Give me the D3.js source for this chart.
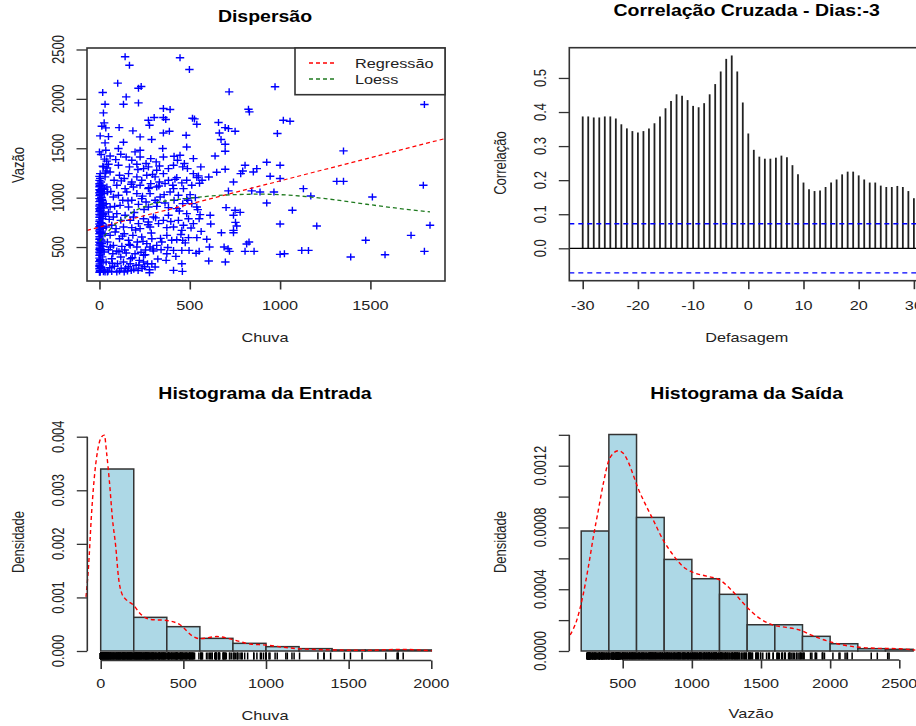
<!DOCTYPE html>
<html>
<head>
<meta charset="utf-8">
<script src="https://cdn.jsdelivr.net/npm/d3@7"></script>
<style>
body { margin: 0; background: #fff; }
text { font-family: "Liberation Sans", Arial, sans-serif; fill: #222; }
</style>
</head>
<body>
<svg width="916" height="726"></svg>
<script>
var dispersao = [
  [142,2426],[166,2341],[446,2416],[498,2297],[101,2159],[18,2064],[148,2020],[133,1946],[216,2108],[231,2125],
  [216,1959],[31,1946],[22,1858],[718,2071],[972,2122],[825,1895],[830,1868],[1799,1943],[354,1902],[391,1892],
  [26,1757],[13,1723],[35,1706],[109,1709],[185,1676],[271,1784],[303,1811],[277,1733],[354,1811],[367,1791],
  [354,1655],[387,1672],[515,1804],[526,1797],[539,1743],[480,1632],[659,1760],[696,1709],[714,1699],[751,1672],
  [664,1655],[673,1588],[696,1540],[696,1470],[985,1649],[1018,1784],[1055,1774],[1351,1473],[4,1625],[50,1618],
  [31,1554],[133,1561],[0,1463],[35,1480],[105,1497],[225,1615],[289,1588],[225,1480],[350,1497],[413,1419],
  [446,1429],[483,1513],[520,1395],[561,1311],[640,1422],[649,1257],[696,1287],[806,1328],[782,1243],[793,1270],
  [852,1260],[871,1294],[926,1358],[1000,1328],[945,1216],[1000,1193],[742,1159],[714,1068],[843,1068],[889,1057],
  [966,1057],[1129,1091],[1170,1017],[1314,1165],[1351,1165],[1511,1007],[1793,1125],[926,946],[1068,872],[1830,720],
  [1203,713],[1000,733],[1725,618],[1474,568],[1120,466],[1157,466],[1000,426],[1024,432],[1391,399],[1581,422],
  [1799,456],[815,530],[828,551],[806,456],[856,456],[779,851],[751,872],[742,821],[753,750],[760,713],
  [742,669],[675,645],[742,645],[701,899],[613,821],[616,733],[594,578],[609,500],[690,500],[712,483],
  [720,456],[697,348],[605,358],[552,456],[496,466],[456,466],[410,466],[373,432],[341,473],[299,459],
  [461,567],[428,574],[493,595],[539,595],[456,331],[410,264],[459,253],[277,240],[308,297],[290,331],
  [369,365],[544,879],[557,828],[552,787],[489,973],[502,1030],[554,1146],[568,1176],[605,1209],[483,838],
  [9,1436],[59,1422],[90,1385],[118,1439],[148,1412],[179,1379],[197,1463],[225,1412],[258,1345],[284,1395],
  [314,1362],[332,1321],[354,1412],[382,1294],[410,1328],[432,1379],[461,1311],[487,1294],[520,1243],[22,1311],
  [50,1338],[105,1328],[166,1311],[207,1338],[244,1294],[271,1311],[317,1277],
  [4,1243],[31,1210],[59,1260],[81,1176],[111,1226],[137,1193],[161,1243],[179,1159],[207,1210],[234,1176],
  [262,1226],[284,1142],[308,1210],[332,1159],[354,1243],[382,1176],[406,1125],[428,1203],[456,1149],[483,1176],
  [511,1125],[539,1203],[13,1125],[41,1108],[96,1125],[142,1091],[188,1108],[225,1125],[271,1091],[317,1108],
  [363,1142],[410,1091],[465,1091],
  [4,1074],[26,1041],[44,1057],[77,1007],[105,1024],[129,973],[151,1057],[179,973],[207,1041],[234,990],
  [258,956],[280,1041],[308,973],[336,1007],[363,946],[391,1057],[413,973],[437,1024],[461,939],[483,990],
  [511,939],[539,905],[13,973],[37,939],[59,905],[114,922],[161,905],[216,932],[271,905],[317,912],
  [382,899],[428,889],
  [4,872],[22,838],[50,855],[77,804],[96,838],[118,770],[142,821],[170,770],[188,804],[216,737],
  [244,787],[271,754],[299,804],[327,737],[354,770],[382,821],[410,703],[437,770],[465,720],[493,787],
  [520,737],[13,737],[37,703],[68,720],[92,686],[133,703],[179,696],[225,686],[280,703],[373,696],[456,669],
  [4,652],[31,635],[59,618],[87,652],[111,584],[137,635],[161,568],[185,618],[210,551],[234,601],
  [262,534],[290,584],[317,517],[345,551],[373,618],[400,568],[13,534],[44,551],[77,517],[124,507],
  [170,517],[207,500],[280,500],
  [4,483],[26,449],[50,473],[74,432],[96,459],[118,399],[148,439],[173,382],[197,432],[221,365],
  [244,416],[266,331],[4,365],[37,348],[68,382],[100,331],[133,348],[170,331],[203,314],[244,348],
  [4,257],[22,250],[44,247],[68,252],[96,247],[111,257],[137,247],[155,257],[4,245],[31,248],
  [0,245],[3,262],[0,280],[8,295],[0,310],[2,328],[12,340],[0,355],[5,372],[0,388],
  [15,400],[0,415],[3,430],[0,447],[8,460],[0,475],[2,490],[18,505],[0,520],[5,535],
  [0,548],[10,562],[0,578],[3,590],[0,605],[14,620],[0,635],[6,648],[0,662],[2,678],
  [20,690],[0,705],[4,718],[0,733],[9,745],[0,760],[2,775],[16,788],[0,802],[5,815],
  [0,830],[11,845],[0,858],[3,872],[0,888],[7,900],[0,915],[2,930],[17,945],[0,960],
  [4,975],[0,990],[10,1005],[0,1020],[3,1035],[0,1050],[6,1065],[0,1080],[13,1095],[0,1110],
  [2,1125],[0,1140],[8,1158],[0,1175],[4,1195],[0,1215],[28,268],[57,290],[83,305],[160,300],
  [190,276],[214,262],[236,283],[250,300],[120,283],[176,262],[230,447],[255,470],[140,470],[60,500],
  [47,255],[54,780],[63,1062],[71,336],[84,912],[108,452],[121,1170],[127,610],[145,285],[158,968],
  [164,527],[176,1135],[182,392],[192,850],[200,672],[213,1285],[218,318],[238,1015],[241,557],[247,880],
  [253,422],[269,725],[274,1100],[277,270],[287,642],[294,1235],[296,480],[311,795],[320,952],[323,378],
  [329,1118],[338,588],[358,1030],[378,495],[395,758],[418,1185],[423,405],[442,865],[451,627],[470,1345],
  [475,542],[507,692],[531,1000],[535,437],[548,1220],[563,658],[1,302],[6,468],[9,572],[14,710],
  [19,826],[24,935],[27,1085],[33,1250],[1,352],[6,512],[9,742],[14,982],[19,1318],[24,895],
  [33,810],[40,1370],[28,1390],[36,1270],[42,1300],[16,918],[11,1000],[7,692]
];
var chuva = dispersao.map(function(d) { return d[0]; });
var vazao = dispersao.map(function(d) { return d[1]; });

// linhas ajustadas
var regX = [-69, 1913];
var regY = [668, 1598];
var loessX = [0, 50, 100, 160, 200, 250, 336, 446, 550, 742, 900, 1000, 1166, 1295, 1480, 1664, 1830];
var loessY = [555, 660, 750, 821, 870, 910, 956, 983, 1005, 1030, 1035, 1030, 1007, 980, 933, 889, 855];

// correlacao cruzada, lags -30..30
var lags = d3.range(-30, 31);
var ccf = [0.387,0.387,0.384,0.384,0.387,0.387,0.381,0.364,0.352,0.344,0.340,0.344,0.352,0.367,0.387,0.411,
  0.432,0.452,0.448,0.435,0.418,0.414,0.426,0.452,0.482,0.519,0.556,0.566,0.519,0.428,0.337,0.289,0.269,
  0.263,0.263,0.266,0.272,0.267,0.244,0.217,0.193,0.173,0.168,0.170,0.180,0.193,0.202,0.217,0.225,0.225,
  0.214,0.202,0.193,0.193,0.184,0.180,0.180,0.183,0.180,0.168,0.147];
var ccfLimite = 0.072;

// histograma da entrada (chuva)
var breaksEntrada = [0,200,400,600,800,1000,1200,1400,1600,1800,2000];
var densEntrada = [0.003397,0.000628,0.000454,0.000236,0.000143,0.000081,0.000044,0.00002,0.00002,0.00002];
var kdeEntradaX = [-89,-75,-54,-34,-18,6,22,36,52,72,91,107,127,157,197,238,298,399,480,560,601,702,802,903,1004,1105,1206,1407,1609,1811,2002];
var kdeEntradaY = [0.00101,0.00151,0.00263,0.00338,0.00375,0.0040,0.00403,0.00369,0.00319,0.00244,0.00195,0.00139,0.00108,0.00095,0.00086,0.0007,0.00059,0.00057,0.00049,0.00027,0.00023,0.00027,0.00021,0.00013,0.00011,0.00007,0.00004,0.00002,0.000012,0.00003,0.000006];

// histograma da saida (vazao)
var breaksSaida = [200,400,600,800,1000,1200,1400,1600,1800,2000,2200,2400,2600];
var densSaida = [0.000777,0.001402,0.000865,0.000593,0.000468,0.000367,0.00017,0.00017,0.000095,0.000047,0.000015,0.000011];
var kdeSaidaX = [120,168,211,252,288,324,360,396,432,468,504,540,576,613,661,721,793,865,937,1009,1106,1202,1298,1395,1491,1587,1683,1779,1875,1972,2092,2212,2356,2500,2616];
var kdeSaidaY = [0.000104,0.0002,0.000352,0.000546,0.00074,0.000913,0.001085,0.001225,0.00128,0.001297,0.00128,0.001225,0.00114,0.00105,0.000956,0.000848,0.000718,0.000621,0.000546,0.000509,0.000485,0.00046,0.000384,0.000287,0.000211,0.000168,0.000153,0.000136,0.000099,0.000067,0.000039,0.000024,0.000017,0.000015,0.000006];

var SX = 1.25; // o original foi esticado na horizontal
var svg = d3.select("svg");

function texto(t, x, y, opt) {
    opt = opt || {};
    var tr = "translate(" + x + "," + y + ") scale(" + SX + ",1)" + (opt.rot ? " rotate(-90)" : "");
    return svg.append("text")
        .attr("transform", tr)
        .attr("text-anchor", "middle")
        .attr("dy", "0.35em")
        .style("font-size", (opt.size || 13) + "px")
        .style("font-weight", opt.bold ? "bold" : "normal")
        .style("fill", opt.bold ? "#000" : "#222")
        .text(t);
}

function eixoX(scale, y, ticks, fmt, labelY, noLine) {
    var g = svg.append("g").attr("transform", "translate(0," + y + ")")
        .call(d3.axisBottom(scale).tickValues(ticks).tickSize(8.5).tickSizeOuter(0).tickFormat(""));
    g.select(".domain").remove();
    g.selectAll("line").attr("stroke", "#333").attr("stroke-width", 1.6);
    if (!noLine) {
        g.append("line").attr("x1", scale(ticks[0])).attr("x2", scale(ticks[ticks.length - 1]))
            .attr("stroke", "#333").attr("stroke-width", 1.3);
    }
    ticks.forEach(function(t) { texto(fmt(t), scale(t), labelY); });
}

function eixoY(scale, x, ticks, labels, labelX, noLine) {
    var g = svg.append("g").attr("transform", "translate(" + x + ",0)")
        .call(d3.axisLeft(scale).tickValues(ticks).tickSize(10.5).tickSizeOuter(0).tickFormat(""));
    g.select(".domain").remove();
    g.selectAll("line").attr("stroke", "#333").attr("stroke-width", 1.3);
    if (!noLine) {
        g.append("line").attr("y1", scale(ticks[0])).attr("y2", scale(ticks[ticks.length - 1]))
            .attr("stroke", "#333").attr("stroke-width", 1.6);
    }
    labels.forEach(function(l) { texto(l[1], labelX, scale(l[0]), { rot: true }); });
}

function caixa(x0, y0, x1, y1) {
    svg.append("rect").attr("x", x0).attr("y", y0).attr("width", x1 - x0).attr("height", y1 - y0)
        .attr("fill", "none").attr("stroke", "#333").attr("stroke-width", 1.6);
}

// ---------- Dispersao ----------
var xs = d3.scaleLinear().domain([-69, 1913]).range([87, 445]);
var ys = d3.scaleLinear().domain([156, 2515]).range([281, 48]);

svg.append("clipPath").attr("id", "clipDisp").append("rect")
    .attr("x", 87).attr("y", 48).attr("width", 358).attr("height", 233);

svg.append("g").selectAll("path.pt").data(dispersao).enter().append("path")
    .attr("d", "M-4.2,0H4.2M0,-3.5V3.5")
    .attr("transform", function(d) { return "translate(" + xs(d[0]) + "," + ys(d[1]) + ")"; })
    .attr("stroke", "#0000ff").attr("stroke-width", 1.4).attr("fill", "none");

var lin = d3.line().x(function(d) { return xs(d[0]); }).y(function(d) { return ys(d[1]); });
svg.append("path").datum(d3.zip(regX, regY)).attr("d", lin).attr("clip-path", "url(#clipDisp)")
    .attr("fill", "none").attr("stroke", "#ff0000").attr("stroke-width", 1.2).attr("stroke-dasharray", "4,3");
svg.append("path").datum(d3.zip(loessX, loessY)).attr("d", d3.line().curve(d3.curveMonotoneX)
        .x(function(d) { return xs(d[0]); }).y(function(d) { return ys(d[1]); }))
    .attr("clip-path", "url(#clipDisp)")
    .attr("fill", "none").attr("stroke", "#1f7a1f").attr("stroke-width", 1.3).attr("stroke-dasharray", "4,3");

caixa(87, 48, 445, 281);
eixoX(xs, 281, [0, 500, 1000, 1500], String, 305, true);
eixoY(ys, 87, [500, 1000, 1500, 2000, 2500], [[500,"500"],[1000,"1000"],[1500,"1500"],[2000,"2000"],[2500,"2500"]], 58, true);
texto("Dispersão", 265, 16.5, { bold: true, size: 15.6 });
texto("Chuva", 265, 337);
texto("Vazão", 18, 165, { rot: true });

// legenda
svg.append("rect").attr("x", 295).attr("y", 48).attr("width", 150).attr("height", 46.7)
    .attr("fill", "#fff").attr("stroke", "#333").attr("stroke-width", 1.6);
var legenda = [["Regressão", "#ff0000", 63], ["Loess", "#1f7a1f", 79]];
legenda.forEach(function(l) {
    svg.append("line").attr("x1", 309).attr("x2", 337).attr("y1", l[2]).attr("y2", l[2])
        .attr("stroke", l[1]).attr("stroke-width", 1.3).attr("stroke-dasharray", "4,3");
    svg.append("text").attr("transform", "translate(355," + l[2] + ") scale(" + SX + ",1)")
        .attr("dy", "0.35em").style("font-size", "13px").text(l[0]);
});

// ---------- Correlacao cruzada ----------
var cx = d3.scaleLinear().domain([-32.43, 32.43]).range([569.3, 927.3]);
var cy = d3.scaleLinear().domain([-0.0951, 0.5888]).range([280.7, 47.7]);

svg.append("g").selectAll("line").data(d3.zip(lags, ccf)).enter().append("line")
    .attr("x1", function(d) { return cx(d[0]); }).attr("x2", function(d) { return cx(d[0]); })
    .attr("y1", cy(0)).attr("y2", function(d) { return cy(d[1]); })
    .attr("stroke", "#222").attr("stroke-width", 1.8);
svg.append("line").attr("x1", 569.3).attr("x2", 927).attr("y1", cy(0)).attr("y2", cy(0))
    .attr("stroke", "#000").attr("stroke-width", 1.3);
[ccfLimite, -ccfLimite].forEach(function(v) {
    svg.append("line").attr("x1", 569.3).attr("x2", 927).attr("y1", cy(v)).attr("y2", cy(v))
        .attr("stroke", "#0000ff").attr("stroke-width", 1.3).attr("stroke-dasharray", "5,4");
});
caixa(569.3, 47.7, 927.3, 280.7);
eixoX(cx, 280.7, [-30, -20, -10, 0, 10, 20, 30], String, 305, true);
eixoY(cy, 569.3, [0, 0.1, 0.2, 0.3, 0.4, 0.5],
    [[0,"0.0"],[0.1,"0.1"],[0.2,"0.2"],[0.3,"0.3"],[0.4,"0.4"],[0.5,"0.5"]], 540, true);
texto("Correlação Cruzada - Dias:-3", 746.7, 11, { bold: true, size: 15.6 });
texto("Defasagem", 746.7, 337);
texto("Correlação", 500, 163, { rot: true });

// ---------- Histograma da entrada ----------
var h1x = d3.scaleLinear().domain([0, 2000]).range([100.7, 431.3]);
var h1y = d3.scaleLinear().domain([0, 0.004]).range([651, 436.7]);

svg.append("g").selectAll("rect").data(densEntrada).enter().append("rect")
    .attr("x", function(d, i) { return h1x(breaksEntrada[i]); })
    .attr("width", function(d, i) { return h1x(breaksEntrada[i + 1]) - h1x(breaksEntrada[i]); })
    .attr("y", function(d) { return h1y(d); })
    .attr("height", function(d) { return h1y(0) - h1y(d); })
    .attr("fill", "#add8e6").attr("stroke", "#333").attr("stroke-width", 1.5);

svg.append("g").selectAll("line").data(chuva).enter().append("line")
    .attr("x1", function(d) { return h1x(d); }).attr("x2", function(d) { return h1x(d); })
    .attr("y1", 659.5).attr("y2", 652.5).attr("stroke", "#000").attr("stroke-width", 1.5);

svg.append("path").datum(d3.zip(kdeEntradaX, kdeEntradaY))
    .attr("d", d3.line().curve(d3.curveMonotoneX).x(function(d) { return h1x(d[0]); }).y(function(d) { return h1y(d[1]); }))
    .attr("fill", "none").attr("stroke", "#ff0000").attr("stroke-width", 1.4).attr("stroke-dasharray", "4,3");

eixoX(h1x, 660.5, [0, 500, 1000, 1500, 2000], String, 683);
eixoY(h1y, 87.3, [0, 0.001, 0.002, 0.003, 0.004],
    [[0,"0.000"],[0.001,"0.001"],[0.002,"0.002"],[0.003,"0.003"],[0.004,"0.004"]], 58.3);
texto("Histograma da Entrada", 265, 394, { bold: true, size: 15.6 });
texto("Chuva", 265, 715);
texto("Densidade", 18, 542, { rot: true });

// ---------- Histograma da saida ----------
var h2x = d3.scaleLinear().domain([500, 2500]).range([622.7, 899.3]);
var h2y = d3.scaleLinear().domain([0, 0.0012]).range([651, 465.7]);

svg.append("g").selectAll("rect").data(densSaida).enter().append("rect")
    .attr("x", function(d, i) { return h2x(breaksSaida[i]); })
    .attr("width", function(d, i) { return h2x(breaksSaida[i + 1]) - h2x(breaksSaida[i]); })
    .attr("y", function(d) { return h2y(d); })
    .attr("height", function(d) { return h2y(0) - h2y(d); })
    .attr("fill", "#add8e6").attr("stroke", "#333").attr("stroke-width", 1.5);

svg.append("g").selectAll("line").data(vazao).enter().append("line")
    .attr("x1", function(d) { return h2x(d); }).attr("x2", function(d) { return h2x(d); })
    .attr("y1", 659.5).attr("y2", 652.5).attr("stroke", "#000").attr("stroke-width", 1.5);

svg.append("path").datum(d3.zip(kdeSaidaX, kdeSaidaY))
    .attr("d", d3.line().curve(d3.curveMonotoneX).x(function(d) { return h2x(d[0]); }).y(function(d) { return h2y(d[1]); }))
    .attr("fill", "none").attr("stroke", "#ff0000").attr("stroke-width", 1.4).attr("stroke-dasharray", "4,3");

eixoX(h2x, 660, [500, 1000, 1500, 2000, 2500], String, 683);
eixoY(h2y, 569.3, [0, 0.0002, 0.0004, 0.0006, 0.0008, 0.001, 0.0012, 0.0014],
    [[0,"0.0000"],[0.0004,"0.0004"],[0.0008,"0.0008"],[0.0012,"0.0012"]], 540);
texto("Histograma da Saída", 746.7, 394, { bold: true, size: 15.6 });
texto("Vazão", 751, 713);
texto("Densidade", 500, 542, { rot: true });
</script>
</body>
</html>
